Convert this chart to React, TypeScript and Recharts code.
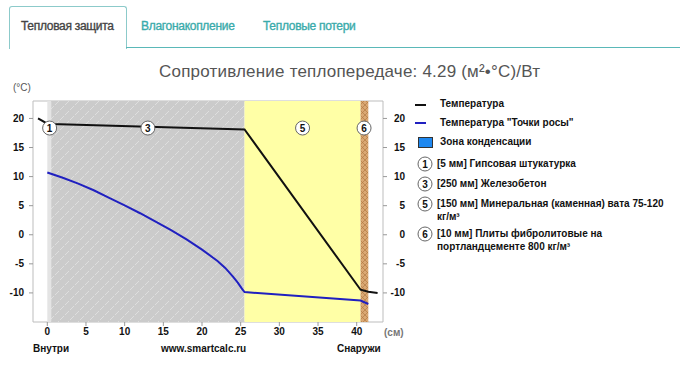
import React from 'react';
import {
  ComposedChart, Line, XAxis, YAxis, ReferenceArea, ReferenceDot,
} from 'recharts';

// ---- data ----
const xTicks = [0, 5, 10, 15, 20, 25, 30, 35, 40];
const yTicks = [-10, -5, 0, 5, 10, 15, 20];

const layerIds = [1, 3, 5, 6];
const layerStart = [0, 0.5, 25.5, 40.5];
const layerEnd = [0.5, 25.5, 40.5, 41.5];
const layerFills = ['#e4e4e4', 'url(#concrete)', '#ffffa6', 'url(#wood)'];
const markerX = [0.3, 13, 33, 40.95];
const markerY = 18.35;

const tempX = [-1.2, 0, 0.5, 25.5, 40.5, 41.5, 42.7];
const tempY = [20, 19.1, 19.05, 18.1, -9.45, -9.8, -10];

const dewX = [0, 2, 4, 6, 8, 10, 12, 14, 16, 18, 20, 22, 23, 24, 24.6, 25.2, 25.5, 40.5, 41.5];
const dewY = [10.7, 9.8, 8.8, 7.65, 6.35, 5.05, 3.7, 2.25, 0.8, -0.8, -2.55, -4.5, -5.7, -7.2, -8.2, -9.35, -9.85, -11.3, -11.9];

const tabs = ['Тепловая защита', 'Влагонакопление', 'Тепловые потери'];
const title = 'Сопротивление теплопередаче: 4.29 (м²•°C)/Вт';
const legendSeries = ['Температура', 'Температура "Точки росы"', 'Зона конденсации'];
const legendLayers: string[][] = [
  ['[5 мм] Гипсовая штукатурка'],
  ['[250 мм] Железобетон'],
  ['[150 мм] Минеральная (каменная) вата 75-120', 'кг/м³'],
  ['[10 мм] Плиты фибролитовые на', 'портландцементе 800 кг/м³'],
];

const tempData = tempX.map((x, i) => ({ x, t: tempY[i] }));
const dewData = dewX.map((x, i) => ({ x, t: dewY[i] }));

const X_MIN = -1.85;
const X_MAX = 43.4;
const Y_MIN = -15;
const Y_MAX = 23;

const FONT = '"Liberation Sans", Arial, sans-serif';

const RightTick = (props: any) => {
  const { x, y, payload } = props;
  return (
    <text x={x + 16} y={y} dy="0.35em" textAnchor="end" fontSize={10} fontWeight="bold" fill="#111" fontFamily={FONT}>
      {payload.value}
    </text>
  );
};

const Marker = (n: number) => (props: any) => {
  const { cx, cy } = props;
  return (
    <g>
      <circle cx={cx} cy={cy} r={7} fill="#fff" stroke="#666" strokeWidth={1} />
      <text x={cx} y={cy} dy="0.36em" textAnchor="middle" fontSize={10} fontWeight="bold" fill="#111" fontFamily={FONT}>{n}</text>
    </g>
  );
};

const Circ = ({ n, cx, cy }: { n: number; cx: number; cy: number }) => (
  <svg style={{ position: 'absolute', left: cx - 8, top: cy - 8 }} width={16} height={16}>
    <circle cx={8} cy={8} r={7} fill="#fff" stroke="#666" strokeWidth={1} />
    <text x={8} y={8} dy="0.36em" textAnchor="middle" fontSize={10} fontWeight="bold" fill="#111" fontFamily={FONT}>{n}</text>
  </svg>
);

const txt = (left: number, cy: number, s: string, extra: React.CSSProperties = {}) => (
  <div style={{ position: 'absolute', left, top: cy - 6, height: 12, lineHeight: '12px', fontSize: 10, fontWeight: 'bold', color: '#111', whiteSpace: 'nowrap', ...extra }}>{s}</div>
);

const tabStyle: React.CSSProperties = {
  position: 'absolute', top: 19, fontSize: 12, fontWeight: 'normal', whiteSpace: 'nowrap',
  letterSpacing: -0.3, WebkitTextStroke: '0.35px currentColor',
};

export default function App() {
  const layerRowY = [164, 184, 204, 234];
  return (
    <div style={{ position: 'absolute', left: 0, top: 0, width: 680, height: 365, background: '#fff', fontFamily: FONT, overflow: 'hidden' }}>
      {/* tabs */}
      <div style={{ position: 'absolute', left: 9, top: 6, width: 116, height: 42, border: '1px solid #8ccaca', borderBottom: 'none', borderRadius: '3px 3px 0 0', background: '#fff' }} />
      <div style={{ position: 'absolute', left: 126, top: 47, width: 554, height: 1, background: '#5ab8b8' }} />
      <div style={{ ...tabStyle, left: 21, color: '#444' }}>{tabs[0]}</div>
      <div style={{ ...tabStyle, left: 141, color: '#3aabab' }}>{tabs[1]}</div>
      <div style={{ ...tabStyle, left: 263, color: '#3aabab' }}>{tabs[2]}</div>

      {/* title */}
      <div style={{ position: 'absolute', left: 159, top: 62, fontSize: 17, letterSpacing: 0.2, color: '#555', whiteSpace: 'nowrap' }}>{title}</div>

      <div style={{ position: 'absolute', left: 0, top: 0 }}>
        <ComposedChart width={680} height={365} margin={{ top: 101, right: 267, bottom: 18, left: 0 }}>
          <defs>
            <pattern id="concrete" patternUnits="userSpaceOnUse" width="10" height="10">
              <rect width="10" height="10" fill="#cbcbcb" />
              <path d="M0 10 L4 6 M5 5 L9 1" stroke="#dedede" strokeWidth="1" />
            </pattern>
            <pattern id="wood" patternUnits="userSpaceOnUse" width="5" height="5">
              <rect width="5" height="5" fill="#daa874" />
              <path d="M0 0 L5 5 M5 0 L0 5" stroke="#b27b45" strokeWidth="0.7" />
            </pattern>
          </defs>
          <XAxis type="number" dataKey="x" domain={[X_MIN, X_MAX]} ticks={xTicks} allowDataOverflow
            height={25} axisLine={false} tickSize={4} tickLine={{ stroke: '#999' }}
            tick={{ fontSize: 10, fontWeight: 'bold', fill: '#111', fontFamily: FONT }} />
          <YAxis yAxisId="l" type="number" domain={[Y_MIN, Y_MAX]} ticks={yTicks} allowDataOverflow width={33}
            axisLine={false} tickSize={4} tickMargin={5} tickLine={{ stroke: '#999' }}
            tick={{ fontSize: 10, fontWeight: 'bold', fill: '#111', fontFamily: FONT }} />
          <YAxis yAxisId="r" orientation="right" type="number" domain={[Y_MIN, Y_MAX]} ticks={yTicks} allowDataOverflow width={30}
            axisLine={false} tickSize={4} tickLine={{ stroke: '#999' }} tick={<RightTick />} />
          <ReferenceArea yAxisId="l" x1={X_MIN} x2={X_MAX} y1={Y_MIN} y2={Y_MAX} fill="#fff" fillOpacity={1} stroke="#bdbdbd" strokeWidth={1} />
          {layerIds.map((id, i) => (
            <ReferenceArea key={id} yAxisId="l" x1={layerStart[i]} x2={layerEnd[i]} y1={Y_MIN} y2={Y_MAX} fill={layerFills[i]} fillOpacity={1} stroke="none" />
          ))}
          <Line yAxisId="l" data={tempData} dataKey="t" type="linear" stroke="#111" strokeWidth={2} dot={false} isAnimationActive={false} />
          <Line yAxisId="l" data={dewData} dataKey="t" type="linear" stroke="#2020c0" strokeWidth={2} dot={false} isAnimationActive={false} />
          {layerIds.map((id, i) => (
            <ReferenceDot key={'m' + id} yAxisId="l" x={markerX[i]} y={markerY} r={7} shape={Marker(id)} />
          ))}
        </ComposedChart>
      </div>

      {/* axis captions */}
      <div style={{ position: 'absolute', left: 13, top: 82, fontSize: 10, color: '#555' }}>(°C)</div>
      <div style={{ position: 'absolute', left: 384, top: 327, fontSize: 10, fontWeight: 'bold', color: '#777' }}>(см)</div>
      {txt(33, 349, 'Внутри')}
      {txt(161, 349, 'www.smartcalc.ru')}
      {txt(337, 349, 'Снаружи')}

      {/* legend */}
      <div style={{ position: 'absolute', left: 415, top: 104, width: 11, height: 2, background: '#111' }} />
      {txt(440, 104, legendSeries[0])}
      <div style={{ position: 'absolute', left: 415, top: 122, width: 11, height: 2, background: '#2020c0' }} />
      {txt(440, 123, legendSeries[1])}
      <div style={{ position: 'absolute', left: 418, top: 137, width: 13, height: 9, background: '#1e88f0', border: '1px solid #333' }} />
      {txt(440, 142, legendSeries[2])}
      {legendLayers.map((lines, i) => (
        <React.Fragment key={i}>
          <Circ n={layerIds[i]} cx={425} cy={layerRowY[i]} />
          {lines.map((s, j) => (
            <React.Fragment key={j}>{txt(437, layerRowY[i] + j * 13, s)}</React.Fragment>
          ))}
        </React.Fragment>
      ))}
    </div>
  );
}
